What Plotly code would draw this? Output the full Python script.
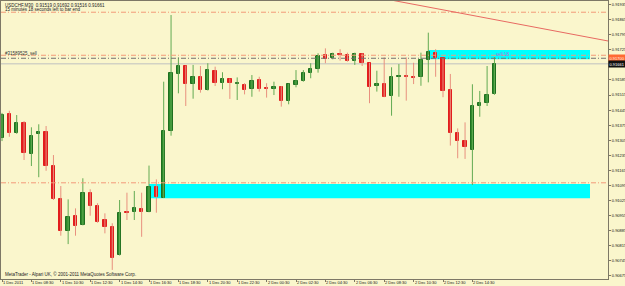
import plotly.graph_objects as go

# ---------------- data ----------------
symbol_title = "USDCHF,M30  0.91519 0.91692 0.91516 0.91661"
timer_text = "15 minutes 18 seconds left to bar end"
copyright_text = "MetaTrader - Alpari UK, \u00a9 2001-2011 MetaQuotes Software Corp."
order_text = "#31589525_sell"
box_text = "sell 18"

opens = [0.91314, 0.91427, 0.91337, 0.91384, 0.91241, 0.91332, 0.91342, 0.91187, 0.91032, 0.90883,
         0.90954, 0.90911, 0.91058, 0.90999, 0.90934, 0.90900, 0.90771, 0.90971, 0.90973, 0.90987,
         0.90973, 0.91089, 0.91038, 0.91348, 0.91613, 0.91650, 0.91566, 0.91597, 0.91538, 0.91627,
         0.91570, 0.91590, 0.91566, 0.91562, 0.91542, 0.91585, 0.91546, 0.91542, 0.91554, 0.91489,
         0.91562, 0.91580, 0.91619, 0.91636, 0.91701, 0.91686, 0.91706, 0.91701, 0.91675, 0.91706,
         0.91663, 0.91558, 0.91566, 0.91512, 0.91600, 0.91603, 0.91600, 0.91597, 0.91678, 0.91712,
         0.91686, 0.91538, 0.91340, 0.91303, 0.91259, 0.91465, 0.91477, 0.91519]
highs = [0.91432, 0.91442, 0.91422, 0.91394, 0.91365, 0.91379, 0.91371, 0.91236, 0.91092, 0.91030,
         0.90988, 0.91128, 0.91077, 0.91012, 0.90965, 0.90919, 0.91027, 0.91061, 0.91069, 0.91061,
         0.91187, 0.91123, 0.91577, 0.91887, 0.91690, 0.91652, 0.91655, 0.91650, 0.91663, 0.91647,
         0.91621, 0.91592, 0.91597, 0.91570, 0.91608, 0.91600, 0.91570, 0.91577, 0.91557, 0.91568,
         0.91631, 0.91631, 0.91663, 0.91709, 0.91732, 0.91712, 0.91728, 0.91712, 0.91712, 0.91709,
         0.91665, 0.91628, 0.91690, 0.91644, 0.91659, 0.91690, 0.91665, 0.91712, 0.91805, 0.91728,
         0.91688, 0.91613, 0.91360, 0.91388, 0.91565, 0.91534, 0.91650, 0.91692]
lows = [0.91301, 0.91321, 0.91335, 0.91213, 0.91185, 0.91133, 0.91163, 0.91027, 0.90861, 0.90822,
        0.90861, 0.90909, 0.90954, 0.90921, 0.90872, 0.90702, 0.90769, 0.90934, 0.90934, 0.90856,
        0.90970, 0.90968, 0.91036, 0.91326, 0.91523, 0.91464, 0.91498, 0.91526, 0.91536, 0.91557,
        0.91542, 0.91497, 0.91492, 0.91518, 0.91507, 0.91531, 0.91503, 0.91515, 0.91461, 0.91472,
        0.91551, 0.91577, 0.91593, 0.91619, 0.91663, 0.91681, 0.91675, 0.91670, 0.91655, 0.91650,
        0.91477, 0.91531, 0.91505, 0.91419, 0.91507, 0.91489, 0.91566, 0.91558, 0.91574, 0.91600,
        0.91505, 0.91280, 0.91221, 0.91218, 0.91097, 0.91414, 0.91464, 0.91516]
closes = [0.91422, 0.91337, 0.91384, 0.91244, 0.91326, 0.91345, 0.91187, 0.91032, 0.90883, 0.90949,
          0.90908, 0.91058, 0.91001, 0.90926, 0.90900, 0.90756, 0.90968, 0.90968, 0.90991, 0.90973,
          0.91086, 0.91042, 0.91348, 0.91616, 0.91651, 0.91566, 0.91597, 0.91538, 0.91631, 0.91572,
          0.91588, 0.91570, 0.91570, 0.91538, 0.91582, 0.91542, 0.91543, 0.91551, 0.91487, 0.91566,
          0.91582, 0.91619, 0.91635, 0.91698, 0.91681, 0.91706, 0.91701, 0.91675, 0.91706, 0.91663,
          0.91554, 0.91566, 0.91507, 0.91597, 0.91603, 0.91599, 0.91596, 0.91678, 0.91714, 0.91686,
          0.91535, 0.91340, 0.91303, 0.91272, 0.91465, 0.91479, 0.91515, 0.91661]

x_tick_idx = [0, 4, 8, 12, 16, 20, 24, 28, 32, 36, 40, 44, 48, 52, 56, 60, 64]
x_tick_labels = ["1 Dec 2011", "1 Dec 08:30", "1 Dec 10:30", "1 Dec 12:30", "1 Dec 14:30",
                 "1 Dec 16:30", "1 Dec 18:30", "1 Dec 20:30", "1 Dec 22:30", "2 Dec 00:30",
                 "2 Dec 02:30", "2 Dec 04:30", "2 Dec 06:30", "2 Dec 08:30", "2 Dec 10:30",
                 "2 Dec 12:30", "2 Dec 14:30"]
# 0.91655 is hidden behind the bid price tag in the reference
y_ticks = [0.91935, 0.91865, 0.91795, 0.91725, 0.91585, 0.91515, 0.91445, 0.91375,
           0.91305, 0.91235, 0.91165, 0.91095, 0.91025, 0.90955, 0.90885, 0.90815, 0.90745, 0.90675]

orange_levels = [0.91900, 0.91700, 0.91107]
order_level = 0.91686
bid_level = 0.91661
order_tag_text = "0.91700"
bid_tag_text = "0.91661"
rect_x0 = [58, 20]
rect_x1 = [80, 80]
rect_lo = [0.91681, 0.91035]
rect_hi = [0.91724, 0.91101]
trend_x = [40, 82.5]
trend_y = [0.92040, 0.91766]

# ---------------- styling ----------------
bg = "#FAF6CC"
frame = "#7d7866"
bull_body = "#2b8a2b"
bull_edge = "#1f6f1f"
bear_body = "#e21d1d"
bull_wick = "#62aa52"
bear_wick = "#e8907e"
font = "Liberation Sans"

n = len(opens)
idx = list(range(n))
bull = [i for i in idx if closes[i] >= opens[i]]
bear = [i for i in idx if closes[i] < opens[i]]

def wick_xy(ids):
    xs, ys = [], []
    for i in ids:
        xs += [i, i, None]
        ys += [lows[i], highs[i], None]
    return xs, ys

fig = go.Figure()
for ids, col in ((bull, bull_wick), (bear, bear_wick)):
    wx, wy = wick_xy(ids)
    fig.add_trace(go.Scatter(x=wx, y=wy, mode="lines", line=dict(color=col, width=1),
                             hoverinfo="skip"))

fig.add_trace(go.Bar(x=bull, y=[closes[i] - opens[i] for i in bull], base=[opens[i] for i in bull],
                     width=0.46, marker=dict(color=bull_body, line=dict(color=bull_edge, width=1)),
                     hoverinfo="skip"))
fig.add_trace(go.Bar(x=bear, y=[opens[i] - closes[i] for i in bear], base=[closes[i] for i in bear],
                     width=0.46, marker=dict(color=bear_body, line=dict(color=bear_body, width=1)),
                     hoverinfo="skip"))

shapes = []
for a, b, lo, hi in zip(rect_x0, rect_x1, rect_lo, rect_hi):
    shapes.append(dict(type="rect", xref="x", yref="y", x0=a, x1=b, y0=lo, y1=hi,
                       fillcolor="#00FFFF", line=dict(width=0), layer="below"))
shapes.append(dict(type="line", xref="paper", yref="y", x0=0, x1=1, y0=bid_level, y1=bid_level,
                   line=dict(color="#d2d2c4", width=1.5), layer="below"))
for lv in orange_levels:
    shapes.append(dict(type="line", xref="paper", yref="y", x0=0, x1=1, y0=lv, y1=lv,
                       line=dict(color="#f29a78", width=1, dash="5px,2px,1px,2px"), layer="above"))
shapes.append(dict(type="line", xref="paper", yref="y", x0=0, x1=1, y0=order_level, y1=order_level,
                   line=dict(color="#707070", width=1, dash="5px,2px,1px,2px"), layer="above"))
shapes.append(dict(type="line", xref="x", yref="y", x0=trend_x[0], x1=trend_x[1],
                   y0=trend_y[0], y1=trend_y[1], line=dict(color="#e86a62", width=1), layer="above"))

annots = []
annots.append(dict(text=symbol_title, xref="paper", yref="paper", x=0, y=1, xanchor="left",
                   yanchor="middle", xshift=2, yshift=-4, showarrow=False,
                   font=dict(family=font, size=4.5, color="#222")))
annots.append(dict(text=timer_text, xref="paper", yref="paper", x=0, y=1, xanchor="left",
                   yanchor="middle", xshift=2, yshift=-8.5, showarrow=False,
                   font=dict(family=font, size=4.5, color="#222")))
annots.append(dict(text=copyright_text, xref="paper", yref="paper", x=0, y=0, xanchor="left",
                   yanchor="middle", xshift=2, yshift=5, showarrow=False,
                   font=dict(family=font, size=4.5, color="#222")))
annots.append(dict(text=order_text, xref="paper", yref="y", x=0, y=order_level, xanchor="left",
                   yanchor="bottom", xshift=2, yshift=0, showarrow=False,
                   font=dict(family=font, size=4.5, color="#333")))
annots.append(dict(text=box_text, xref="x", yref="y", x=68.2, y=(rect_lo[0] + rect_hi[0]) / 2,
                   xanchor="center", yanchor="middle", showarrow=False,
                   font=dict(family=font, size=4.5, color="#a070e0")))
for i, lab in zip(x_tick_idx, x_tick_labels):
    annots.append(dict(text=lab, xref="x", yref="paper", x=i, y=0, xanchor="left",
                       yanchor="middle", xshift=-1, yshift=-3.8, showarrow=False,
                       font=dict(family=font, size=4, color="#111")))
annots.append(dict(text=order_tag_text, xref="paper", yref="y", x=1, y=order_level,
                   xanchor="left", yanchor="middle", showarrow=False, bgcolor="#ff6a33",
                   borderpad=0.5, font=dict(family=font, size=4, color="#fff0e0")))
annots.append(dict(text=bid_tag_text, xref="paper", yref="y", x=1, y=bid_level - 0.00002,
                   xanchor="left", yanchor="middle", showarrow=False, bgcolor="#111111",
                   borderpad=0.5, font=dict(family=font, size=4, color="#ffffff")))

fig.update_layout(
    width=625, height=286,
    margin=dict(l=1, r=17, t=1, b=7, pad=0),
    paper_bgcolor=bg, plot_bgcolor=bg,
    showlegend=False, barmode="overlay", bargap=0,
    shapes=shapes, annotations=annots,
    xaxis=dict(range=[-0.136, 82.449], showgrid=False, zeroline=False, showline=True,
               mirror=True, linecolor=frame, linewidth=1, tickvals=x_tick_idx,
               ticks="outside", ticklen=2, tickcolor=frame, showticklabels=False,
               automargin=False, fixedrange=True),
    yaxis=dict(side="right", range=[0.9065975, 0.9195220], tickvals=y_ticks, tickformat=".5f",
               ticks="outside", ticklen=2, tickcolor=frame, showgrid=False, zeroline=False,
               showline=True, mirror=True, linecolor=frame, linewidth=1,
               tickfont=dict(family=font, size=4, color="#111"), ticklabelstandoff=0,
               automargin=False, fixedrange=True),
)

fig.write_html("out.html")
